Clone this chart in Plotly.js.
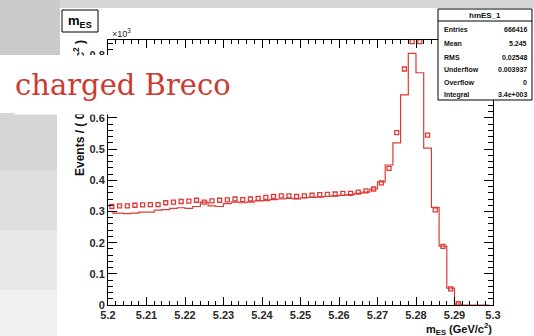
<!DOCTYPE html>
<html>
<head>
<meta charset="utf-8">
<script src="https://cdn.plot.ly/plotly-3.0.1.min.js"></script>
<style>html,body{margin:0;padding:0;background:#fff;}#chart{width:534px;height:336px;}</style>
</head>
<body>
<div id="chart"></div>
<script>
// ---- data ----
const binCenters = [5.201,5.203,5.205,5.207,5.209,5.211,5.213,5.215,5.217,5.219,
                    5.221,5.223,5.225,5.227,5.229,5.231,5.233,5.235,5.237,5.239,
                    5.241,5.243,5.245,5.247,5.249,5.251,5.253,5.255,5.257,5.259,
                    5.261,5.263,5.265,5.267,5.269,5.271,5.273,5.275,5.277,5.279,
                    5.281,5.283,5.285,5.287,5.289,5.291,5.293,5.295,5.297,5.299];
const histValues = [0.295,0.295,0.293,0.295,0.298,0.298,0.304,0.306,0.310,0.312,
                    0.310,0.316,0.330,0.318,0.316,0.325,0.330,0.328,0.330,0.334,
                    0.335,0.338,0.340,0.342,0.340,0.344,0.345,0.346,0.348,0.350,
                    0.352,0.354,0.358,0.362,0.372,0.395,0.449,0.520,0.674,0.807,
                    0.745,0.503,0.313,0.189,0.054,0.003,0,0,0,0];
const pointValues = [0.316,0.318,0.318,0.320,0.321,0.322,0.322,0.328,0.330,0.332,
                     0.333,0.336,0.330,0.334,0.336,0.337,0.340,0.338,0.340,0.342,
                     0.345,0.348,0.350,0.350,0.348,0.350,0.352,0.354,0.355,0.356,
                     0.358,0.358,0.362,0.366,0.372,0.392,0.438,0.553,0.757,0.845,
                     0.845,0.545,0.305,0.188,0.052,0.004,null,null,null,null];
const statLabels = ["Entries","Mean","RMS","Underflow","Overflow","Integral"];
const statValues = ["666416","5.245","0.02548","0.003937","0","3.4e+003"];
const histName = "hmES_1";

// ---- layout helpers (pixel -> paper) ----
const W = 534, H = 336;
const M = {l:108, r:41, t:40, b:31};
const PW = W - M.l - M.r, PH = H - M.t - M.b;
const px = x => (x - M.l) / PW;
const py = y => (H - M.b - y) / PH;
const RED = '#dd3b36';
const FONT = 'Liberation Sans, Arial, sans-serif';

function rect(x0,y0,x1,y1,fill,line,layer){
  return {type:'rect', xref:'paper', yref:'paper', x0:px(x0), x1:px(x1), y0:py(y1), y1:py(y0),
          fillcolor:fill, line:{width: line?1:0, color: line||'rgba(0,0,0,0)'}, layer: layer||'above'};
}

const shapes = [
  // presentation background
  rect(0,0,534,8,'#d6d6d6',null,'below'),
  rect(0,0,60,55,'#cbcbcb',null,'below'),
  rect(0,113,57,170,'#d5d5d5',null,'below'),
  rect(0,170,57,230,'#dedede',null,'below'),
  rect(0,230,57,290,'#e8e8e8',null,'below'),
  rect(0,290,57,336,'#f0f0f0',null,'below'),
  // title box
  rect(62,10,98,32,'#ffffff','#000000','above'),
  // stats box
  rect(438,9,532,100,'#ffffff','#000000','above'),
  {type:'line', xref:'paper', yref:'paper', x0:px(438), x1:px(532), y0:py(21), y1:py(21), line:{width:1,color:'#000'}, layer:'above'},
  // label box over the plot
  rect(0,55,248,113,'#ffffff',null,'above')
];

const annotations = [
  {xref:'paper', yref:'paper', x:px(80), y:py(21), xanchor:'center', yanchor:'middle', showarrow:false,
   text:'<b>m</b><sub><b>ES</b></sub>', font:{family:FONT, size:13, color:'#000'}},
  {xref:'paper', yref:'paper', x:px(485), y:py(15), xanchor:'center', yanchor:'middle', showarrow:false,
   text:'<b>'+histName+'</b>', font:{family:FONT, size:8, color:'#111'}},
  {xref:'paper', yref:'paper', x:px(110), y:py(33), xanchor:'left', yanchor:'middle', showarrow:false,
   text:'×10<sup>3</sup>', font:{family:FONT, size:9, color:'#222'}},
  {xref:'paper', yref:'paper', x:px(79), y:py(38), xanchor:'center', yanchor:'top', showarrow:false, textangle:-90,
   text:'<b>Events / ( 0.002 GeV/c<sup>2</sup> )</b>', font:{family:FONT, size:12, color:'#111'}},
  {xref:'paper', yref:'paper', x:px(494), y:py(329), xanchor:'right', yanchor:'middle', showarrow:false,
   text:'<b>m</b><sub><b>ES</b></sub><b> (GeV/c<sup>2</sup>)</b>', font:{family:FONT, size:11, color:'#111'}}
];
const rowY = [29,43,57,69,82,95];
statLabels.forEach((lab,i) => {
  annotations.push({xref:'paper', yref:'paper', x:px(442), y:py(rowY[i]), xanchor:'left', yanchor:'middle', showarrow:false,
    text:'<b>'+lab+'</b>', font:{family:FONT, size:7, color:'#111'}});
  annotations.push({xref:'paper', yref:'paper', x:px(529), y:py(rowY[i]), xanchor:'right', yanchor:'middle', showarrow:false,
    text:'<b>'+statValues[i]+'</b>', font:{family:FONT, size:7, color:'#111'}});
});
// label drawn last with a white box, so it hides what lies under it
annotations.push({xref:'paper', yref:'paper', x:px(14), y:py(55), xanchor:'left', yanchor:'top', showarrow:false,
   width:234, height:58, bgcolor:'#ffffff', borderpad:0, align:'left', valign:'middle',
   text:'charged Breco', font:{family:'DejaVu Serif, serif', size:29, color:'#cc3b33'}});

const traces = [
  {type:'scatter', mode:'lines', x:binCenters, y:histValues, line:{shape:'hvh', color:RED, width:1.2}, hoverinfo:'skip'},
  {type:'scatter', mode:'markers', x:binCenters, y:pointValues,
   marker:{symbol:'square-open', size:4, color:RED, line:{width:1.3, color:RED}}, hoverinfo:'skip'}
];

const axisCommon = {
  showgrid:false, zeroline:false, showline:true, linecolor:'#000', linewidth:1, mirror:'ticks',
  ticks:'inside', tickcolor:'#000', tickwidth:1,
  tickfont:{family:FONT, size:11, color:'#2a2a2a', weight:'bold'}
};

const layout = {
  width:W, height:H, margin:{l:M.l, r:M.r, t:M.t, b:M.b, pad:0},
  paper_bgcolor:'#ffffff', plot_bgcolor:'#ffffff', showlegend:false,
  xaxis: Object.assign({}, axisCommon, {range:[5.2,5.3], tick0:5.2, dtick:0.01, ticklen:8,
    minor:{dtick:0.002, ticks:'inside', ticklen:4, tickcolor:'#000'}}),
  yaxis: Object.assign({}, axisCommon, {range:[0,0.85], tick0:0, dtick:0.1, ticklen:9,
    minor:{dtick:0.02, ticks:'inside', ticklen:5, tickcolor:'#000'}}),
  shapes: shapes,
  annotations: annotations
};

Plotly.newPlot('chart', traces, layout, {staticPlot:true, displayModeBar:false});
</script>
</body>
</html>
